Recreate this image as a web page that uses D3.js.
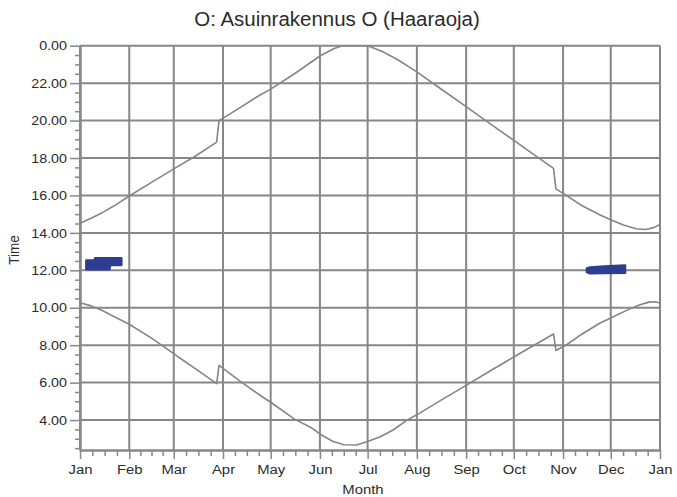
<!DOCTYPE html>
<html>
<head>
<meta charset="utf-8">
<script src="https://cdn.jsdelivr.net/npm/d3@7"></script>
<style>
  body { margin: 0; background: #fff; }
  text { font-family: "Liberation Sans", Arial, Helvetica, sans-serif; fill: #2b2b2b; }
</style>
</head>
<body>
<svg id="chart" width="677" height="497"></svg>
<script>
// Month labels along the x axis (day-of-year positions of each month start)
const monthLabels = ["Jan","Feb","Mar","Apr","May","Jun","Jul","Aug","Sep","Oct","Nov","Dec","Jan"];
const monthStartDay = [0,31,59,90,120,151,181,212,243,273,304,334,365];

// Hour ticks on the y axis (24 is shown as 0.00)
const hourTicks = [24,22,20,18,16,14,12,10,8,6,4];

// Sunset time (upper curve), day of year -> hour
const sunsetDay  = [0, 7, 14, 21, 31, 45, 59, 73, 86, 87.5, 100, 112, 120, 135, 151, 160, 165, 181, 190, 200, 212, 227, 243, 258, 273, 285, 298, 299.5, 306, 316, 327, 334, 342, 350, 356, 361, 365];
const sunsetHour = [14.52, 14.78, 15.08, 15.42, 15.97, 16.7, 17.42, 18.12, 18.85, 20.0, 20.65, 21.3, 21.68, 22.5, 23.45, 23.85, 24.0, 24.0, 23.7, 23.25, 22.6, 21.7, 20.74, 19.84, 18.94, 18.22, 17.45, 16.35, 16.0, 15.45, 14.97, 14.7, 14.42, 14.22, 14.18, 14.28, 14.45];

// Sunrise time (lower curve), day of year -> hour
const sunriseDay  = [0, 7, 14, 21, 31, 45, 59, 63, 73, 86, 87.5, 100, 113, 120, 135, 145, 152, 159, 166, 174, 181, 189, 197, 206, 212, 227, 243, 258, 273, 277, 298, 299.5, 306, 316, 327, 334, 345, 352, 358, 362, 365];
const sunriseHour = [10.27, 10.1, 9.85, 9.55, 9.12, 8.38, 7.55, 7.3, 6.72, 5.95, 6.92, 6.12, 5.34, 4.95, 4.05, 3.62, 3.2, 2.87, 2.68, 2.67, 2.85, 3.11, 3.47, 4.01, 4.28, 5.05, 5.85, 6.62, 7.37, 7.57, 8.6, 7.72, 8.01, 8.6, 9.17, 9.45, 9.9, 10.15, 10.3, 10.32, 10.25];

// Shading periods near midday (January and late November)
const shadeJanDay  = [4, 9, 9.5, 18.5, 19, 26];
const shadeJanFrom = [12.06, 12.06, 12.06, 12.06, 12.29, 12.29];
const shadeJanTo   = [12.52, 12.52, 12.64, 12.64, 12.64, 12.64];
const shadeNovDay  = [319, 321, 330, 343];
const shadeNovFrom = [11.9, 11.84, 11.85, 11.87];
const shadeNovTo   = [12.1, 12.15, 12.2, 12.26];

const svg = d3.select("#chart");
const plotLeft = 80, plotRight = 660, plotTop = 45.7, plotBottom = 450;

const x = d3.scaleLinear().domain([0, 365]).range([plotLeft, plotRight]);
const y = d3.scaleLinear().domain([2.4, 24]).range([plotBottom, plotTop]);

const gridColor = "#878787";
const textStretch = 1.1;   // glyphs are drawn slightly wide
const fmtHour = h => d3.format(".2f")(h % 24);

// Title
svg.append("text")
  .attr("transform", "translate(337,26) scale(1.05,1)")
  .attr("text-anchor", "middle")
  .style("font-size", "19.5px")
  .text("O: Asuinrakennus O (Haaraoja)");

// Horizontal grid
svg.append("g").selectAll("line").data(hourTicks).join("line")
  .attr("x1", plotLeft).attr("x2", plotRight)
  .attr("y1", d => y(d)).attr("y2", d => y(d))
  .attr("stroke", gridColor).attr("stroke-width", 2);

// Vertical grid at month starts
svg.append("g").selectAll("line").data(monthStartDay).join("line")
  .attr("x1", d => x(d)).attr("x2", d => x(d))
  .attr("y1", plotTop).attr("y2", plotBottom)
  .attr("stroke", gridColor).attr("stroke-width", 2);

// Minor ticks: quarter-month on x, half-hour on y
const minorDays = [];
for (let i = 0; i < 12; i++) {
  const a = monthStartDay[i], b = monthStartDay[i + 1];
  [0.25, 0.5, 0.75].forEach(f => minorDays.push(a + (b - a) * f));
}
const minorHours = d3.range(2.5, 24, 0.5).filter(h => !hourTicks.includes(h));

function styleAxis(size) {
  return g => {
    g.selectAll("path.domain").attr("stroke", gridColor).attr("stroke-width", 2);
    g.selectAll(".tick line").attr("stroke", gridColor).attr("stroke-width", 1.5);
    g.selectAll(".tick text").style("font-size", size + "px").attr("fill", "#2b2b2b")
      .attr("transform", function () {
        const tx = +this.getAttribute("x") || 0;
        return `translate(${tx},0) scale(${textStretch},1) translate(${-tx},0)`;
      });
  };
}

svg.append("g").attr("transform", `translate(${plotLeft},0)`)
  .call(d3.axisLeft(y).tickValues(minorHours).tickSize(5).tickFormat("").tickSizeOuter(0))
  .call(styleAxis(13));
svg.append("g").attr("transform", `translate(${plotLeft},0)`)
  .call(d3.axisLeft(y).tickValues(hourTicks).tickSize(10).tickPadding(3).tickFormat(fmtHour).tickSizeOuter(0))
  .call(styleAxis(13));

svg.append("g").attr("transform", `translate(0,${plotBottom})`)
  .call(d3.axisBottom(x).tickValues(minorDays).tickSize(6).tickFormat("").tickSizeOuter(0))
  .call(styleAxis(13.5));
svg.append("g").attr("transform", `translate(0,${plotBottom})`)
  .call(d3.axisBottom(x).tickValues(monthStartDay).tickSize(9).tickPadding(5)
    .tickFormat((d, i) => monthLabels[i]).tickSizeOuter(0))
  .call(styleAxis(13.5));

// Axis titles
svg.append("text")
  .attr("transform", `translate(363,494) scale(${textStretch},1)`)
  .attr("text-anchor", "middle")
  .style("font-size", "13.5px")
  .text("Month");
svg.append("text")
  .attr("transform", `translate(19,250) scale(${textStretch},1) rotate(-90)`)
  .attr("text-anchor", "middle")
  .style("font-size", "13.5px")
  .text("Time");

// Sunrise / sunset curves
const line = d3.line().x(d => x(d[0])).y(d => y(d[1]));
const curveColor = "#858585";
[[sunsetDay, sunsetHour], [sunriseDay, sunriseHour]].forEach(([days, hours]) => {
  svg.append("path")
    .datum(days.map((d, i) => [d, hours[i]]))
    .attr("fill", "none")
    .attr("stroke", curveColor)
    .attr("stroke-width", 1.6)
    .attr("stroke-linejoin", "round")
    .attr("d", line);
});

// Shading areas
const area = d3.area().x(d => x(d[0])).y0(d => y(d[1])).y1(d => y(d[2]));
const shadeColor = "#2d3e92";
[[shadeJanDay, shadeJanFrom, shadeJanTo], [shadeNovDay, shadeNovFrom, shadeNovTo]].forEach(([days, from, to]) => {
  svg.append("path")
    .datum(days.map((d, i) => [d, from[i], to[i]]))
    .attr("fill", shadeColor)
    .attr("stroke", shadeColor)
    .attr("stroke-width", 2.5)
    .attr("stroke-linejoin", "round")
    .attr("d", area);
});
</script>
</body>
</html>
